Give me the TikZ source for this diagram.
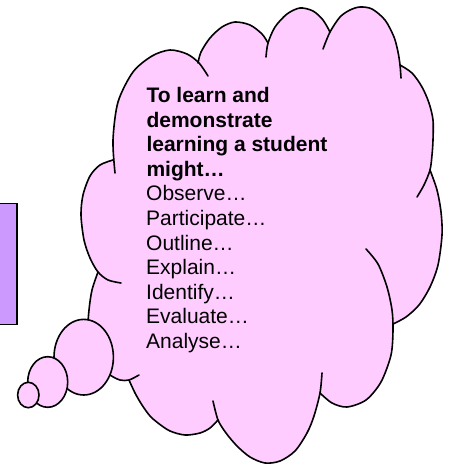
\documentclass[tikz,border=0pt]{standalone}
\usepackage{fontspec}
\setmainfont{Liberation Sans}
\definecolor{cloudpink}{HTML}{FFCCFF}
\definecolor{boxpurple}{HTML}{CC99FF}
\begin{document}
\begin{tikzpicture}[x=1pt,y=-1pt,
  cloudline/.style={draw=black, line width=1.6pt, line cap=round, line join=round},
  bubble/.style={fill=cloudpink, draw=black, line width=1.6pt},
  txt/.style={anchor=base west, inner sep=0pt, font=\fontsize{21}{24.5}\selectfont, text=black}]
\clip (0,0) rectangle (452,465);
\fill[white] (0,0) rectangle (452,465);
% purple box at the left edge
\node (box) [rectangle, draw=black, fill=boxpurple, line width=1.6pt, inner sep=0pt,
  minimum width=40pt, minimum height=121pt, anchor=north east] at (17.5,202.5) {};
% cloud fill
\fill[cloudpink]
  plot[smooth] coordinates {(113,160) (113,140) (118,102) (133,72) (152,56) (170,50) (187,54) (198,63)}
  -- plot[smooth] coordinates {(198,63) (201,52) (210,38) (222,27) (235,22) (250,25) (262,34) (268,43)}
  -- plot[smooth] coordinates {(268,43) (275,27) (287,14) (300,8) (313,11) (323,20) (330,32)}
  -- plot[smooth] coordinates {(330,32) (340,17) (350,10) (360,7) (372,9) (385,20) (394,37) (398,52) (400,65)}
  -- plot[smooth] coordinates {(400,65) (412,73) (422,87) (429,103) (433,120) (433,140) (432,155) (430,170)}
  -- plot[smooth] coordinates {(430,170) (437,190) (441,212) (442,235) (438,265) (430,287) (419,305) (406,317) (393,324)}
  -- plot[smooth] coordinates {(393,324) (391,350) (381,382) (366,400) (347,407) (332,403) (320,393)}
  -- plot[smooth] coordinates {(320,393) (314,416) (307,433) (295,451) (280,461) (265,463) (250,457) (237,446) (226,433) (218,420)}
  -- plot[smooth] coordinates {(218,420) (210,428) (200,433) (185,435) (170,431) (158,423) (150,416) (142,405) (135,393) (129,380)}
  -- plot[smooth] coordinates {(129,380) (120,380) (110,375) (100,366) (92,352) (88,330) (89,310) (92,290) (98,272)}
  -- plot[smooth] coordinates {(98,272) (90,258) (84,240) (81,215) (83,195) (90,176) (100,165) (113,160)}
  -- cycle;
% cloud lobes (outline with inner ticks)
\draw[cloudline] plot[smooth] coordinates {(115,173) (113,140) (118,102) (133,72) (152,56) (170,50) (187,54) (199,63) (208,76)};
\draw[cloudline] plot[smooth] coordinates {(198,63) (201,52) (210,38) (222,27) (235,22) (250,25) (262,34) (268,43)};
\draw[cloudline] plot[smooth] coordinates {(266,57) (268,43) (275,27) (287,14) (300,8) (313,11) (323,20) (330,32)};
\draw[cloudline] plot[smooth] coordinates {(323,49) (330,32) (340,17) (350,10) (360,7) (372,9) (385,20) (394,37) (398,52) (400,65) (401,78)};
\draw[cloudline] plot[smooth] coordinates {(400,65) (412,73) (422,87) (429,103) (433,120) (433,140) (432,155) (430,170) (424,185) (417,197)};
\draw[cloudline] plot[smooth] coordinates {(430,170) (437,190) (441,212) (442,235) (438,265) (430,287) (419,305) (406,317) (393,324)};
\draw[cloudline] plot[smooth] coordinates {(366,249) (378,264) (387,287) (392,310) (393,330) (391,355) (381,382) (366,400) (347,407) (332,403) (320,393)};
\draw[cloudline] plot[smooth] coordinates {(322,373) (320,393) (314,416) (307,433) (295,451) (280,461) (265,463) (250,457) (237,446) (226,433) (218,420) (213,401)};
\draw[cloudline] plot[smooth] coordinates {(218,420) (210,428) (200,433) (185,435) (170,431) (158,423) (150,416) (142,405) (135,393) (129,380)};
\draw[cloudline] plot[smooth] coordinates {(98,272) (92,290) (89,310) (88,330) (92,352) (100,366) (110,375) (120,380) (129,380) (139,375)};
\draw[cloudline] plot[smooth] coordinates {(113,160) (100,165) (90,176) (83,195) (81,215) (84,240) (90,258) (98,272) (108,280) (121,283)};
% thought bubbles
\draw[bubble] (83.7,357.2) ellipse [x radius=29.7, y radius=37.8];
\draw[bubble] (47.7,382) ellipse [x radius=20, y radius=25.3];
\draw[bubble] (28.3,395) ellipse [x radius=10.7, y radius=12.7];
% text
\node[txt] (t1) at (146.3,102.7) {\bfseries To learn and};
\node[txt] (t2) at (146.3,127.2) {\bfseries demonstrate};
\node[txt] (t3) at (146.3,151.7) {\bfseries learning a student};
\node[txt] (t4) at (146.3,176.2) {\bfseries might…};
\node[txt] (t5) at (146,200.8) {Observe…};
\node[txt] (t6) at (146,225.4) {Participate…};
\node[txt] (t7) at (146,250) {Outline…};
\node[txt] (t8) at (146,274.6) {Explain…};
\node[txt] (t9) at (146,299.2) {Identify…};
\node[txt] (t10) at (146,323.7) {Evaluate…};
\node[txt] (t11) at (146,348.3) {Analyse…};
\end{tikzpicture}
\end{document}
